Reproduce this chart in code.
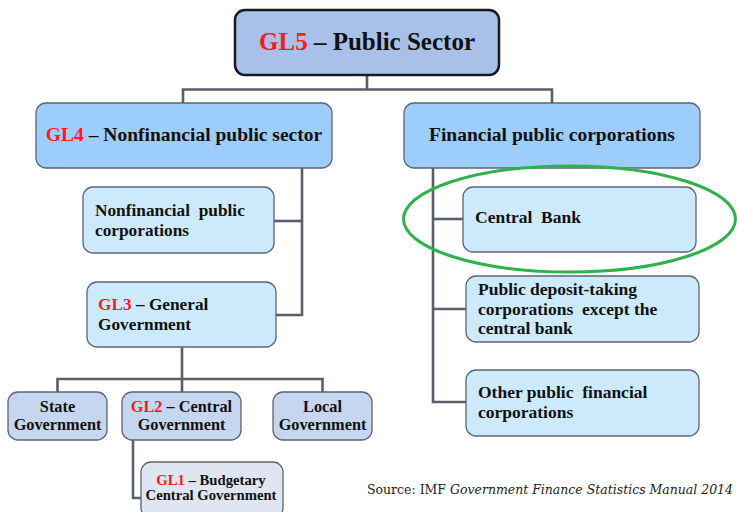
import React from "react";

// ---- content ----
const levelTags = ["GL5", "GL4", "GL3", "GL2", "GL1"];
const topTitle = ["Public Sector"];
const sectorTitles = ["Nonfinancial public sector", "Financial public corporations"];
const nonfinLines = ["Nonfinancial  public", "corporations"];
const genGovLines = ["General", "Government"];
const govUnits = [["State", "Government"], ["Central", "Government"], ["Local", "Government"]];
const budgetaryLines = ["Budgetary", "Central Government"];
const finUnits = [
  ["Central  Bank"],
  ["Public deposit-taking", "corporations  except the", "central bank"],
  ["Other public  financial", "corporations"],
];
const sourcePlain = "Source: IMF ";
const sourceItalic = "Government Finance Statistics Manual 2014";

// ---- layout (separate from content) ----
const W = 737, H = 512;
const FONT = "Liberation Serif";
const LINE = "#5b5f6b";
const RED = "#ff1a1a";

type Box = { x: number; y: number; w: number; h: number; fill: string; stroke?: string; sw?: number };
const B = {
  gl5: { x: 235, y: 10, w: 264, h: 65, fill: "#a9c1e8", stroke: "#1a1a1a", sw: 2.5 },
  gl4: { x: 36, y: 103, w: 296, h: 65, fill: "#9ccdfb" },
  fin: { x: 404, y: 103, w: 296, h: 65, fill: "#9ccdfb" },
  nfc: { x: 83, y: 187, w: 191, h: 66, fill: "#cdeafc" },
  gl3: { x: 87, y: 282, w: 189, h: 65, fill: "#cdeafc" },
  state: { x: 8, y: 392, w: 99, h: 48, fill: "#c7d6f0" },
  gl2: { x: 122, y: 392, w: 119, h: 48, fill: "#c7d6f0" },
  local: { x: 273, y: 392, w: 99, h: 48, fill: "#c7d6f0" },
  gl1: { x: 141, y: 462, w: 142, h: 56, fill: "#dfe5f1" },
  cb: { x: 463, y: 187, w: 233, h: 65, fill: "#cdeafc" },
  pdt: { x: 466, y: 276, w: 233, h: 66, fill: "#cdeafc" },
  opf: { x: 466, y: 370, w: 233, h: 66, fill: "#cdeafc" },
} as Record<string, Box>;

const RoundBox = ({ b }: { b: Box }) => (
  <rect x={b.x} y={b.y} width={b.w} height={b.h} rx={10} ry={10}
    fill={b.fill} stroke={b.stroke ?? "#5e6470"} strokeWidth={b.sw ?? 1.3} />
);

export default function App() {
  const cx = (b: Box) => b.x + b.w / 2;
  const busY = 89.5;
  const gl4V = 302;
  const finV = 433;
  const gl3Bus = 379;
  const gl2V = 133;

  const connectors: string[] = [
    `M${cx(B.gl5)},${B.gl5.y + B.gl5.h} V${busY}`,
    `M183,${B.gl4.y} V${busY} H552 V${B.fin.y}`,
    `M${gl4V},${B.gl4.y + B.gl4.h} V315 H${B.gl3.x + B.gl3.w}`,
    `M${gl4V},221 H${B.nfc.x + B.nfc.w}`,
    `M182,${B.gl3.y + B.gl3.h} V${gl3Bus}`,
    `M${cx(B.state)},${B.state.y} V${gl3Bus} H${cx(B.local)} V${B.local.y}`,
    `M182,${gl3Bus} V${B.gl2.y}`,
    `M${gl2V},${B.gl2.y + B.gl2.h} V498 H${B.gl1.x}`,
    `M${finV},${B.fin.y + B.fin.h} V402 H${B.opf.x}`,
    `M${finV},219 H${B.cb.x}`,
    `M${finV},309 H${B.pdt.x}`,
  ];

  return (
    <svg width={W} height={H} viewBox={`0 0 ${W} ${H}`}
      style={{ position: "absolute", left: 0, top: 0, display: "block", background: "#fff", fontFamily: FONT }}
      fontWeight="bold">
      <g fill="none" stroke={LINE} strokeWidth={2.6}>
        {connectors.map((d, i) => <path key={i} d={d} />)}
      </g>
      {Object.keys(B).map((k) => <RoundBox key={k} b={B[k]} />)}

      {/* GL5 */}
      <text x={cx(B.gl5)} y={50} fontSize={25} textAnchor="middle">
        <tspan fill={RED}>{levelTags[0]}</tspan>
        <tspan fill="#111"> – {topTitle[0]}</tspan>
      </text>

      {/* GL4 and Financial */}
      <text x={184} y={141} fontSize={19.5} textAnchor="middle" fill="#111">
        <tspan fill={RED}>{levelTags[1]}</tspan>
        <tspan> – {sectorTitles[0]}</tspan>
      </text>
      <text x={552} y={141} fontSize={19.5} textAnchor="middle" fill="#111">
        {sectorTitles[1]}
      </text>

      {/* Nonfinancial public corporations */}
      <text fontSize={17.3} fill="#111" xmlSpace="preserve">
        {nonfinLines.map((l, i) => <tspan key={i} x={95} y={216 + i * 19.5}>{l}</tspan>)}
      </text>

      {/* GL3 */}
      <text fontSize={17.3} fill="#111" xmlSpace="preserve">
        <tspan x={98} y={310}><tspan fill={RED}>{levelTags[2]}</tspan> – {genGovLines[0]}</tspan>
        <tspan x={98} y={330}>{genGovLines[1]}</tspan>
      </text>

      {/* Government units */}
      {[B.state, B.gl2, B.local].map((b, i) => (
        <text key={i} fontSize={16.3} fill="#111" textAnchor="middle">
          <tspan x={cx(b)} y={412}>
            {i === 1 ? <><tspan fill={RED}>{levelTags[3]}</tspan> – {govUnits[i][0]}</> : govUnits[i][0]}
          </tspan>
          <tspan x={cx(b)} y={430}>{govUnits[i][1]}</tspan>
        </text>
      ))}

      {/* GL1 */}
      <text fontSize={14.7} fill="#111" textAnchor="middle">
        <tspan x={cx(B.gl1) - 1} y={485}><tspan fill={RED}>{levelTags[4]}</tspan> – {budgetaryLines[0]}</tspan>
        <tspan x={cx(B.gl1) - 1} y={500}>{budgetaryLines[1]}</tspan>
      </text>

      {/* Financial units */}
      <text fontSize={17.5} fill="#111" xmlSpace="preserve">
        <tspan x={475} y={223}>{finUnits[0][0]}</tspan>
      </text>
      <text fontSize={17.5} fill="#111" xmlSpace="preserve">
        {finUnits[1].map((l, i) => <tspan key={i} x={478} y={295 + i * 19.5}>{l}</tspan>)}
      </text>
      <text fontSize={17.5} fill="#111" xmlSpace="preserve">
        {finUnits[2].map((l, i) => <tspan key={i} x={478} y={398 + i * 20}>{l}</tspan>)}
      </text>

      {/* highlight ellipse */}
      <ellipse cx={569.5} cy={219} rx={166} ry={53} fill="none" stroke="#2fb24b" strokeWidth={3} />

      {/* source */}
      <text x={367} y={494} fontSize={12.5} fontWeight="normal" fill="#222"
        style={{ fontFamily: "DejaVu Serif" }} textLength={366} lengthAdjust="spacingAndGlyphs">
        {sourcePlain}<tspan fontStyle="italic">{sourceItalic}</tspan>
      </text>
    </svg>
  );
}
